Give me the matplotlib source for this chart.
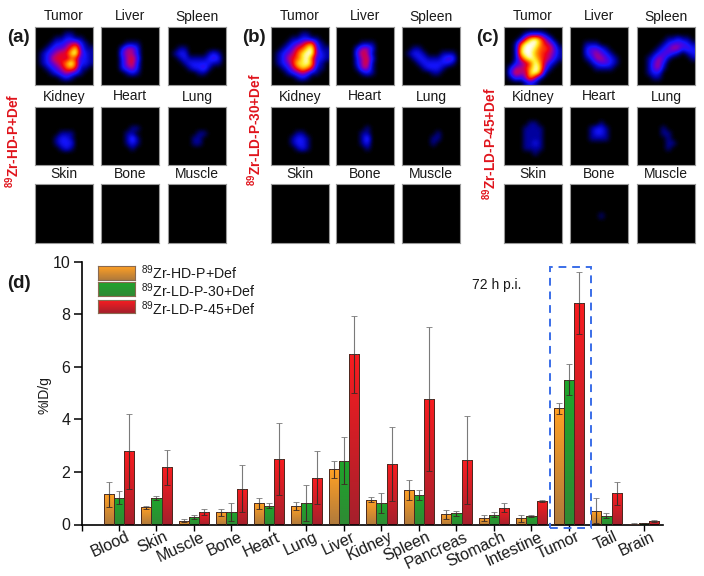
# Biodistribution figure: PET organ images on top, uptake bars below
import matplotlib
matplotlib.use('Agg')
import matplotlib.pyplot as plt
from matplotlib.colors import LinearSegmentedColormap
from matplotlib.patches import Rectangle
from matplotlib.transforms import ScaledTranslation
import numpy as np

organs = ['Blood', 'Skin', 'Muscle', 'Bone', 'Heart', 'Lung', 'Liver', 'Kidney',
          'Spleen', 'Pancreas', 'Stomach', 'Intestine', 'Tumor', 'Tail', 'Brain']
series_names = [r'$^{89}$Zr-HD-P+Def', r'$^{89}$Zr-LD-P-30+Def', r'$^{89}$Zr-LD-P-45+Def']

hd_values = [1.15, 0.65, 0.15, 0.47, 0.80, 0.72, 2.10, 0.95, 1.32, 0.39, 0.25, 0.23, 4.43, 0.52, 0.03]
hd_errors = [0.48, 0.05, 0.05, 0.13, 0.22, 0.15, 0.32, 0.10, 0.37, 0.18, 0.11, 0.13, 0.21, 0.48, 0.01]
ld30_values = [1.02, 1.00, 0.28, 0.48, 0.72, 0.82, 2.43, 0.80, 1.13, 0.43, 0.37, 0.33, 5.51, 0.33, 0.05]
ld30_errors = [0.25, 0.07, 0.07, 0.35, 0.10, 0.68, 0.90, 0.38, 0.18, 0.09, 0.09, 0.03, 0.58, 0.10, 0.01]
ld45_values = [2.78, 2.18, 0.48, 1.36, 2.50, 1.78, 6.48, 2.30, 4.76, 2.44, 0.63, 0.89, 8.43, 1.18, 0.14]
ld45_errors = [1.42, 0.66, 0.10, 0.89, 1.38, 1.00, 1.47, 1.42, 2.74, 1.67, 0.17, 0.05, 1.17, 0.44, 0.03]

panel_labels = ['(a)', '(b)', '(c)']
panel_names = ['Tumor', 'Liver', 'Spleen', 'Kidney', 'Heart', 'Lung', 'Skin', 'Bone', 'Muscle']
empty = ['000000000000'] * 12

# Image intensity read by eye on a coarse grid, 0 is black and 9 is white
a_tumor = ['000000000000', '000000110000', '000011221100', '000122345210',
           '001233468311', '012345589321', '012455465221', '012345796221',
           '001234675110', '000123432100', '000001210000', '000000000000']
a_liver = ['000000000000', '000000000000', '000000000000', '000001110000',
           '000024420000', '000034420000', '000024530000', '000024520000',
           '000023420000', '000001210000', '000000000000', '000000000000']
a_spleen = ['000000000000', '000000000000', '000000000000', '000000000000',
            '001100000000', '012200001210', '001211112320', '000122222110',
            '000012231000', '000000110000', '000000000000', '000000000000']
a_kidney = ['000000000000', '000000000000', '000000000000', '000000000000',
            '000000000000', '000001110000', '000012210000', '000012220000',
            '000001210000', '000000000000', '000000000000', '000000000000']
a_heart = ['000000000000', '000000000000', '000000000000', '000000000000',
           '000000110000', '000001100000', '000001310000', '000001210000',
           '000000100000', '000000000000', '000000000000', '000000000000']
a_lung = ['000000000000', '000000000000', '000000000000', '000000000000',
          '000000000000', '000000110000', '000001100000', '000001100000',
          '000000000000', '000000000000', '000000000000', '000000000000']
b_tumor = ['000000000000', '000000110000', '000011221100', '000123467210',
           '001235689311', '012346899321', '012456896221', '012358897210',
           '001246875110', '000123431100', '000001210000', '000000000000']
b_liver = ['000000000000', '000000000000', '000000000000', '000001110000',
           '000024420000', '000035410000', '000024520000', '000024510000',
           '000014410000', '000001210000', '000000000000', '000000000000']
b_spleen = ['000000000000', '000000000000', '000000000000', '000000000000',
            '001100000000', '012210001110', '001221112330', '000122222210',
            '000012221000', '000000110000', '000000000000', '000000000000']
b_kidney = ['000000000000', '000000000000', '000000000000', '000000000000',
            '000000000000', '000001100000', '000012210000', '000012210000',
            '000001210000', '000000000000', '000000000000', '000000000000']
b_heart = ['000000000000', '000000000000', '000000000000', '000000000000',
           '000000100000', '000001100000', '000001300000', '000001200000',
           '000000100000', '000000000000', '000000000000', '000000000000']
b_lung = ['000000000000', '000000000000', '000000000000', '000000000000',
          '000000000000', '000000010000', '000000110000', '000000100000',
          '000000000000', '000000000000', '000000000000', '000000000000']
c_tumor = ['000000000000', '000012221000', '000158974200', '001699975420',
           '001899866531', '001899765431', '001589865421', '002346974210',
           '024457983100', '035448971000', '013247410000', '000012100000']
c_liver = ['000000000000', '000000000000', '000000000000', '000111000000',
           '000233210000', '000234321000', '000124432100', '000012332100',
           '000001111000', '000000000000', '000000000000', '000000000000']
c_spleen = ['000000000000', '000000000000', '000000112110', '000001233321',
            '000012344232', '000123321012', '001243100001', '001342000000',
            '001341000000', '001220000000', '000110000000', '000000000000']
c_kidney = ['000000000000', '000000000000', '000000000000', '000001100000',
            '000011110000', '000011110000', '000011110000', '000011210000',
            '000011110000', '000000100000', '000000000000', '000000000000']
c_heart = ['000000000000', '000000000000', '000000000000', '000000100000',
           '000012210000', '000012210000', '000011110000', '000000000000',
           '000000000000', '000000000000', '000000000000', '000000000000']
c_lung = ['000000000000', '000000000000', '000000000000', '000000000000',
          '000001000000', '000001100000', '000000100000', '000000110000',
          '000000100000', '000000000000', '000000000000', '000000000000']
c_bone = ['000000000000', '000000000000', '000000000000', '000000000000',
          '000000000000', '000000000000', '000000100000', '000000000000',
          '000000000000', '000000000000', '000000000000', '000000000000']

panels_a = [a_tumor, a_liver, a_spleen, a_kidney, a_heart, a_lung, empty, empty, empty]
panels_b = [b_tumor, b_liver, b_spleen, b_kidney, b_heart, b_lung, empty, empty, empty]
panels_c = [c_tumor, c_liver, c_spleen, c_kidney, c_heart, c_lung, empty, c_bone, empty]

W, H = 704, 576
FONT = 'Liberation Sans'

pet_cmap = LinearSegmentedColormap.from_list('pet', [
    '#000000', '#0000a0', '#1414ff', '#5a00d8', '#b00080', '#f00018',
    '#ff4a00', '#ffa000', '#fff030', '#ffffff'])
orange_cmap = LinearSegmentedColormap.from_list('o', ['#b07a3c', '#ffa024'])
green_cmap = LinearSegmentedColormap.from_list('g', ['#2f8a34', '#1fa52c'])
red_cmap = LinearSegmentedColormap.from_list('r', ['#a5202c', '#f81c20'])


def px_axes(fig, x0, y0, x1, y1):
    # Axes from pixel corners, y measured from the top of the picture
    return fig.add_axes([x0 / W, 1 - y1 / H, (x1 - x0) / W, (y1 - y0) / H])


def draw_panels(fig, grids, lefts, label, label_x, side_text, side_x, side_y):
    tops = [(27, 85), (107, 165), (184, 243)]
    for i, grid in enumerate(grids):
        x0, x1 = lefts[i % 3]
        y0, y1 = tops[i // 3]
        ax = px_axes(fig, x0, y0, x1, y1)
        img = np.array([[int(c) for c in row] for row in grid], dtype=float)
        ax.imshow(img, cmap=pet_cmap, vmin=0, vmax=9, interpolation='bicubic', aspect='auto')
        ax.set_xticks([])
        ax.set_yticks([])
        for spine in ax.spines.values():
            spine.set_color('#999999')
            spine.set_linewidth(0.8)
        fig.text((x0 + x1) / 2 / W, 1 - (y0 - 10.5) / H, panel_names[i], ha='center', va='center',
                 fontsize=10, family=FONT, color='#1a1a1a')
    fig.text(label_x / W, 1 - 38 / H, label, fontsize=13.5, fontweight='bold', family=FONT,
             ha='left', va='center', color='#1a1a1a')
    fig.text(side_x / W, 1 - side_y / H, side_text, rotation=90, fontsize=9.8, fontweight='bold',
             family=FONT, color='#e0141c', ha='center', va='center')


def gradient_bar(ax, patch, cmap):
    # Fill a bar with a vertical gradient, clipped to the bar itself
    grad = np.linspace(1, 0, 64).reshape(-1, 1)
    x0 = patch.get_x()
    x1 = x0 + patch.get_width()
    im = ax.imshow(grad, cmap=cmap, vmin=0, vmax=1, aspect='auto',
                   extent=[x0, x1, 0, patch.get_height()], zorder=2)
    im.set_clip_path(patch)


def main():
    plt.rcParams['mathtext.default'] = 'regular'
    plt.rcParams['mathtext.fontset'] = 'custom'
    plt.rcParams['mathtext.rm'] = FONT
    plt.rcParams['mathtext.bf'] = FONT + ':bold'

    fig = plt.figure(figsize=(W / 100, H / 100), dpi=100)

    draw_panels(fig, panels_a, [(35, 93), (101, 159), (168, 226)], panel_labels[0], 7,
                r'$\mathbf{^{89}Zr}$-HD-P+Def', 13, 141)
    draw_panels(fig, panels_b, [(271, 329), (336, 394), (402, 460)], panel_labels[1], 242,
                r'$\mathbf{^{89}Zr}$-LD-P-30+Def', 255, 130)
    draw_panels(fig, panels_c, [(504, 562), (570, 628), (637, 695)], panel_labels[2], 476,
                r'$\mathbf{^{89}Zr}$-LD-P-45+Def', 490, 144)
    fig.text(7 / W, 1 - 284 / H, '(d)', fontsize=13.5, fontweight='bold', family=FONT,
             ha='left', va='center', color='#1a1a1a')

    ax = px_axes(fig, 81.5, 261.7, 662.7, 524.5)
    x = np.arange(len(organs))
    width = 0.272
    all_values = [hd_values, ld30_values, ld45_values]
    all_errors = [hd_errors, ld30_errors, ld45_errors]
    cmaps = [orange_cmap, green_cmap, red_cmap]

    for k in range(3):
        pos = x + (k - 1) * width
        bars = ax.bar(pos, all_values[k], width, facecolor='none', edgecolor='#4a2a20',
                      linewidth=0.7, zorder=3)
        for patch in bars:
            gradient_bar(ax, patch, cmaps[k])
        no_err = np.zeros(len(organs))
        # gray whisker above the bar, dark one inside it
        ax.errorbar(pos, all_values[k], yerr=[no_err, all_errors[k]], fmt='none', ecolor='#7a7a7a',
                    elinewidth=0.8, capsize=2.2, capthick=0.6, zorder=4)
        ax.errorbar(pos, all_values[k], yerr=[all_errors[k], no_err], fmt='none', ecolor='#3c2a24',
                    elinewidth=0.8, capsize=2.2, capthick=0.6, zorder=4)

    ax.add_patch(Rectangle((11.49, -0.15), 1.09, 9.94, fill=False, edgecolor='#3a6ee8',
                           linewidth=1.4, linestyle=(0, (4, 3)), clip_on=False, zorder=5))

    ax.set_xlim(-1, 14.5)
    ax.set_ylim(0, 10)
    ax.set_yticks([0, 2, 4, 6, 8, 10])
    ax.set_xticks(np.arange(-1, 15))
    ax.set_xticklabels([''] + organs, rotation=25, ha='right', rotation_mode='anchor',
                       fontsize=11.5, family=FONT, color='#1a1a1a')
    for label in ax.get_yticklabels():
        label.set_fontsize(11.5)
        label.set_family(FONT)
        label.set_color('#1a1a1a')
    ax.tick_params(axis='x', length=4, width=1, pad=3)
    ax.tick_params(axis='y', length=6, width=1.1, pad=2)
    # labels sit further right and closer to the axis than the default anchor,
    # has to come after tick_params because that resets the transform
    shift = ScaledTranslation(7 / 100, 5 / 100, fig.dpi_scale_trans)
    for label in ax.get_xticklabels():
        label.set_transform(label.get_transform() + shift)
    ax.spines['top'].set_visible(False)
    ax.spines['right'].set_visible(False)
    ax.spines['left'].set_linewidth(1.2)
    ax.spines['bottom'].set_linewidth(1.2)
    ax.patch.set_alpha(0)

    fig.text(45 / W, 1 - 395 / H, '%ID/g', rotation=90, fontsize=10, family=FONT,
             ha='center', va='center', color='#1a1a1a')
    fig.text(497 / W, 1 - 285 / H, '72 h p.i.', fontsize=10, family=FONT,
             ha='center', va='center', color='#1a1a1a')

    # Legend with gradient swatches
    swatch_rows = [(266, 280), (282, 296), (300, 313)]
    text_rows = [273, 291, 309]
    for k in range(3):
        y0, y1 = swatch_rows[k]
        sw = px_axes(fig, 98, y0, 135, y1)
        sw.imshow(np.linspace(1, 0, 32).reshape(-1, 1), cmap=cmaps[k], vmin=0, vmax=1, aspect='auto')
        sw.set_xticks([])
        sw.set_yticks([])
        for spine in sw.spines.values():
            spine.set_color('#8a6a50')
            spine.set_linewidth(0.8)
        fig.text(141 / W, 1 - text_rows[k] / H, series_names[k], fontsize=10.2, family=FONT,
                 ha='left', va='center', color='#1a1a1a')

    fig.savefig('out.png', dpi=100)


main()
